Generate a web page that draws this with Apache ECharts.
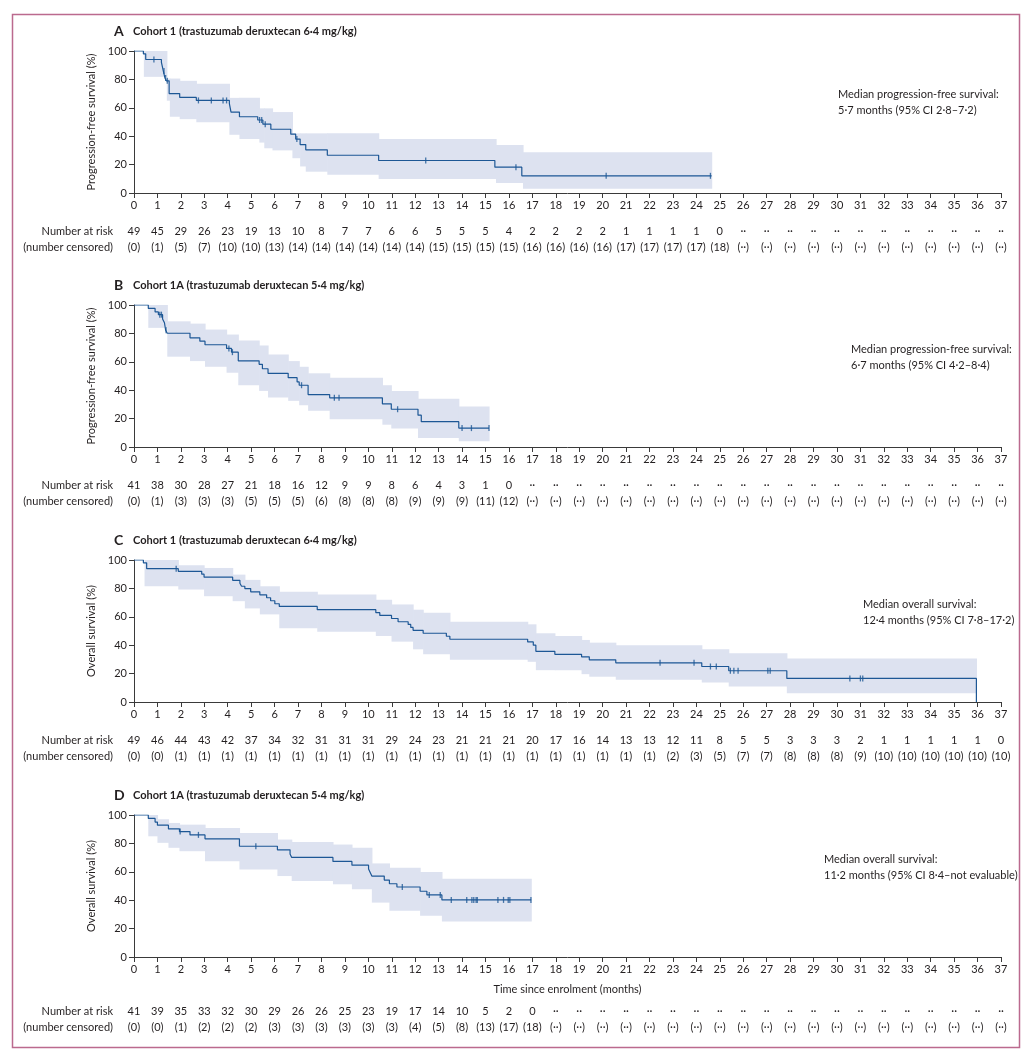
<!DOCTYPE html>
<html><head><meta charset="utf-8">
<script src="https://cdn.jsdelivr.net/npm/echarts@6/dist/echarts.min.js"></script>
<style>html,body{margin:0;padding:0;background:#fff}#c{width:1034px;height:1054px}</style>
</head><body><div id="c"></div>
<script>
// ---------- DATA ----------
// Panel A: PFS cohort 1 (6.4 mg/kg)
const pfsA_t = [0,0.4,0.5,1.17,1.25,1.32,1.38,1.5,1.95,2.66,4.07,4.14,4.5,5.28,5.5,5.84,6.69,6.9,7.09,7.33,8.25,10.44,15.4,16.55,24.65];
const pfsA_s = [100,98,94,92,86,81,79,70,67.3,65.2,63,57,53.7,51.4,48.5,44.9,41.4,38,34.1,30.4,26.6,22.9,18.2,12.1,12.1];
const pfsA_cens = [[0.85,94],[1.28,86],[1.35,81],[1.42,79],[2.75,65.2],[3.3,65.2],[3.8,65.2],[3.95,65.2],[5.36,51.4],[5.45,51.4],[5.6,48.5],[6.95,38],[12.45,22.9],[16.3,18.2],[20.15,12.1],[24.6,12.1]];
const ciA_t  = [0.42,1.4,1.53,1.95,2.66,4.07,4.5,5.35,5.56,5.91,6.76,7.09,7.33,8.25,10.44,15.45,16.6];
const ciA_hi = [100,80.6,80.6,79,77,67,67,59.6,59.6,57,42,42,42,42,38,33.8,28.7];
const ciA_lo = [81.8,65,53.7,52,49.8,41,38,35.5,31.5,30,24.5,18.7,15,12.9,9.8,7,3];
const ciA_end = 24.65;
const riskA = [49,45,29,26,23,19,13,10,8,7,7,6,6,5,5,5,4,2,2,2,2,1,1,1,1,0];
const censA = [0,1,5,7,10,10,13,14,14,14,14,14,14,15,15,15,15,16,16,16,16,17,17,17,17,18];

// Panel B: PFS cohort 1A (5.4 mg/kg)
const pfsB_t = [0,0.61,0.9,1.04,1.22,1.3,1.35,1.42,2.39,2.81,3.03,3.95,4.16,4.45,5.34,5.48,5.72,6.58,6.96,7.05,7.43,8.35,10.6,10.98,12.12,12.26,13.86,15.15];
const pfsB_s = [100,97.6,95.1,93.2,90.2,87.5,82.2,80.1,76.9,74.5,72,69.4,66.8,60.7,58.2,55.1,51.9,48.8,45.8,43.5,36.9,34.6,30.4,26.6,22.4,17.8,13.3,13.3];
const pfsB_cens = [[1.1,93.2],[1.17,93.2],[1.37,82.2],[4.05,69.4],[4.2,66.8],[7.15,43.5],[8.55,34.6],[8.75,34.6],[11.25,26.6],[14.0,13.3],[14.4,13.3],[15.15,13.3]];
const ciB_t  = [0.61,1.42,2.39,3.03,3.95,4.45,5.34,5.72,6.58,7.05,7.43,8.35,10.6,10.98,12.12,13.86];
const ciB_hi = [100,88.5,86.9,82.7,79.2,75,71.5,65.2,60.5,56.5,51.9,48.8,43.5,39.5,34,28.5];
const ciB_lo = [83.9,63.6,60.5,56.5,52.3,43.5,39.5,34.8,32.5,29.4,25.5,19.6,15.7,13,6.3,4];
const ciB_end = 15.15;
const riskB = [41,38,30,28,27,21,18,16,12,9,9,8,6,4,3,1,0];
const censB = [0,1,3,3,3,5,5,5,6,8,8,8,9,9,9,11,12];

// Panel C: OS cohort 1 (6.4 mg/kg)
const osC_t = [0,0.4,0.54,1.89,2.89,2.99,4.21,4.52,4.59,4.73,4.98,5.37,5.66,5.83,6.01,6.2,7.82,10.32,10.49,10.99,11.27,11.7,11.81,11.91,12.34,13.33,13.48,16.8,17.04,17.15,17.96,19.1,19.43,20.56,24.23,25.38,27.86,35.95,35.95];
const osC_s = [100,98,93.9,92,90,87.9,85.7,83.6,81.5,79.9,77.6,75.5,73.4,71.3,69.2,67.3,65,62.9,61,58.8,56.5,54.6,52.5,50.5,48.4,46.3,44.2,42.3,40,35.7,33.6,31.8,29.7,27.6,25,22,16.6,16.6,0];
const osC_cens = [[1.8,93.9],[22.45,27.6],[23.9,27.6],[24.6,25],[24.85,25],[25.45,22],[25.6,22],[25.78,22],[27.05,22],[27.15,22],[30.55,16.6],[31.0,16.6],[31.1,16.6]];
const ciC_t  = [0.45,1.89,2.99,4.21,4.73,5.37,6.2,7.82,10.32,10.99,11.91,12.34,13.48,16.8,17.15,17.96,19.1,19.43,20.56,24.23,25.38,27.86];
const ciC_hi = [100,96.3,94.4,89.7,86,81.5,77.6,75.7,72,68.7,65,62.9,56.5,54.7,48.4,46.5,43.7,41.8,40,37.1,34.3,30.6];
const ciC_lo = [81.5,79.2,74.5,71,65.9,61.7,51.9,49.5,46.5,42.5,37.1,33.6,29.7,28.3,22.4,22.4,19.6,17.8,15.7,13.8,11,6.1];
const ciC_end = 35.95;
const riskC = [49,46,44,43,42,37,34,32,31,31,31,29,24,23,21,21,21,20,17,16,14,13,13,12,11,8,5,5,3,3,3,2,1,1,1,1,1,0];
const censC = [0,0,1,1,1,1,1,1,1,1,1,1,1,1,1,1,1,1,1,1,1,1,1,2,3,5,7,7,8,8,8,9,10,10,10,10,10,10];

// Panel D: OS cohort 1A (5.4 mg/kg)
const osD_t = [0,0.61,0.9,1.0,1.47,1.94,2.39,3.03,4.5,6.12,6.66,6.73,8.49,9.3,10.01,10.08,10.15,10.68,10.9,11.22,12.21,12.5,13.14,16.95];
const osD_s = [100,97.6,95,92.8,90.2,88.3,86,83.2,78,75.5,72.5,70.1,67.3,64.7,62,59.5,57,54.2,51.6,49.3,46.3,43.7,40.2,40.2];
const osD_cens = [[1.97,88.3],[2.75,86],[5.2,78],[11.45,49.3],[12.6,43.7],[13.07,43.7],[13.54,40.2],[14.2,40.2],[14.42,40.2],[14.5,40.2],[14.6,40.2],[14.65,40.2],[15.53,40.2],[15.77,40.2],[15.97,40.2],[16.04,40.2],[16.94,40.2]];
const ciD_t  = [0.61,1.0,1.47,1.94,3.03,4.5,6.12,6.73,8.49,9.3,10.15,10.9,12.21,13.14];
const ciD_hi = [100,97,94.4,93.2,90.9,87.4,82.7,81,79.2,76.9,65.9,62.9,59.8,55.1];
const ciD_lo = [85,80.4,76.9,74.5,67.5,61.7,57,53.5,51.2,47.7,38.3,32.5,29,25];
const ciD_end = 16.95;
const riskD = [41,39,35,33,32,30,29,26,26,25,23,19,17,14,10,5,2,0];
const censD = [0,0,1,2,2,2,3,3,3,3,3,3,4,5,8,13,17,18];

const titles = ['Cohort 1 (trastuzumab deruxtecan 6·4 mg/kg)','Cohort 1A (trastuzumab deruxtecan 5·4 mg/kg)','Cohort 1 (trastuzumab deruxtecan 6·4 mg/kg)','Cohort 1A (trastuzumab deruxtecan 5·4 mg/kg)'];
const letters = ['A','B','C','D'];
const yNames = ['Progression-free survival (%)','Progression-free survival (%)','Overall survival (%)','Overall survival (%)'];
const medians = [
  ['Median progression-free survival:','5·7 months (95% CI 2·8–7·2)'],
  ['Median progression-free survival:','6·7 months (95% CI 4·2–8·4)'],
  ['Median overall survival:','12·4 months (95% CI 7·8–17·2)'],
  ['Median overall survival:','11·2 months (95% CI 8·4–not evaluable)']
];
const xName = 'Time since enrolment (months)';
const rowLabels = ['Number at risk','(number censored)'];

// ---------- BUILD ----------
const FONT = 'Lato';
const TXT = '#231f20';
const LINE = '#1d5795';
const BAND = '#dde2f0';
const AX = '#3a3a3a';

const panels = [
  {t:pfsA_t,s:pfsA_s,c:pfsA_cens,ct:ciA_t,hi:ciA_hi,lo:ciA_lo,end:ciA_end,risk:riskA,cens:censA},
  {t:pfsB_t,s:pfsB_s,c:pfsB_cens,ct:ciB_t,hi:ciB_hi,lo:ciB_lo,end:ciB_end,risk:riskB,cens:censB},
  {t:osC_t,s:osC_s,c:osC_cens,ct:ciC_t,hi:ciC_hi,lo:ciC_lo,end:ciC_end,risk:riskC,cens:censC},
  {t:osD_t,s:osD_s,c:osD_cens,ct:ciD_t,hi:ciD_hi,lo:ciD_lo,end:ciD_end,risk:riskD,cens:censD}
];
const tops = [51,305,560,815];
const H = 142;
const riskOffset = [22,22,22,38];
const medPos = [[838,94],[851,349],[863,604],[824,859]];

const grid=[], xAxis=[], yAxis=[], series=[], graphic=[];
graphic.push({type:'rect',shape:{x:12.5,y:14.5,width:1007,height:1033},style:{fill:'none',stroke:'#bb6a8e',lineWidth:1.5},silent:true});

panels.forEach((p,i)=>{
  grid.push({left:134,width:867,top:tops[i],height:H});
  xAxis.push({type:'value',gridIndex:i,min:0,max:37,interval:1,
    axisLine:{show:true,lineStyle:{color:AX,width:1}},
    axisTick:{show:true,length:5,lineStyle:{color:AX}},
    splitLine:{show:false},
    axisLabel:{color:TXT,fontFamily:FONT,fontSize:11,margin:7},
    name: i===3 ? xName : '', nameLocation:'middle', nameGap:27,
    nameTextStyle:{color:TXT,fontFamily:FONT,fontSize:11}
  });
  xAxis.push({type:'value',gridIndex:i,min:0,max:37,interval:1,position:'bottom',offset:riskOffset[i],
    axisLine:{show:false},axisTick:{show:false},splitLine:{show:false},
    axisLabel:{color:TXT,fontFamily:FONT,fontSize:11,lineHeight:16,margin:8,
      formatter:(v)=>{const k=Math.round(v); return k<p.risk.length ? (p.risk[k]+'\n('+p.cens[k]+')') : '··\n(··)';}}
  });
  yAxis.push({type:'value',gridIndex:i,min:0,max:100,interval:20,
    axisLine:{show:true,lineStyle:{color:AX,width:1}},
    axisTick:{show:true,length:5,lineStyle:{color:AX}},
    splitLine:{show:false},
    axisLabel:{color:TXT,fontFamily:FONT,fontSize:11,margin:7},
    name:yNames[i],nameLocation:'middle',nameGap:31,nameRotate:90,
    nameTextStyle:{color:TXT,fontFamily:FONT,fontSize:11}
  });
  // CI band
  const band = p.ct.map((t,k)=>[t, k+1<p.ct.length ? p.ct[k+1] : p.end, p.lo[k], p.hi[k]]);
  series.push({type:'custom',xAxisIndex:2*i,yAxisIndex:i,silent:true,z:1,
    data:band, encode:{x:[0,1],y:[2,3]},
    renderItem:(params,api)=>{
      const a=api.coord([api.value(0),api.value(3)]);
      const b=api.coord([api.value(1),api.value(2)]);
      return {type:'rect',shape:{x:a[0],y:a[1],width:b[0]-a[0]+0.6,height:b[1]-a[1]},style:{fill:BAND}};
    }
  });
  // KM step line
  series.push({type:'line',xAxisIndex:2*i,yAxisIndex:i,step:'end',showSymbol:false,silent:true,z:3,
    data:p.t.map((t,k)=>[t,p.s[k]]),lineStyle:{color:LINE,width:1.2}});
  // censor marks
  series.push({type:'scatter',xAxisIndex:2*i,yAxisIndex:i,silent:true,z:4,
    symbol:'rect',symbolSize:[1.3,6],itemStyle:{color:LINE},data:p.c});
  // texts
  graphic.push({type:'text',left:114,top:tops[i]-27,style:{text:letters[i],font:'bold 14px '+FONT,fill:TXT}});
  graphic.push({type:'text',left:133,top:tops[i]-25,style:{text:titles[i],font:'bold 11px '+FONT,fill:TXT}});
  graphic.push({type:'text',x:medPos[i][0],y:medPos[i][1]-8,style:{text:medians[i][0]+'\n'+medians[i][1],font:'11px '+FONT,fill:TXT,lineHeight:16,verticalAlign:'top'}});
  const ry = tops[i]+H+riskOffset[i]+8;
  graphic.push({type:'text',x:113,y:ry,style:{text:rowLabels[0]+'\n'+rowLabels[1],font:'11px '+FONT,fill:TXT,lineHeight:16,align:'right',textAlign:'right'}});
});

const chart = echarts.init(document.getElementById('c'),null,{renderer:'canvas'});
chart.setOption({animation:false,backgroundColor:'#fff',grid,xAxis,yAxis,series,graphic});
</script></body></html>
